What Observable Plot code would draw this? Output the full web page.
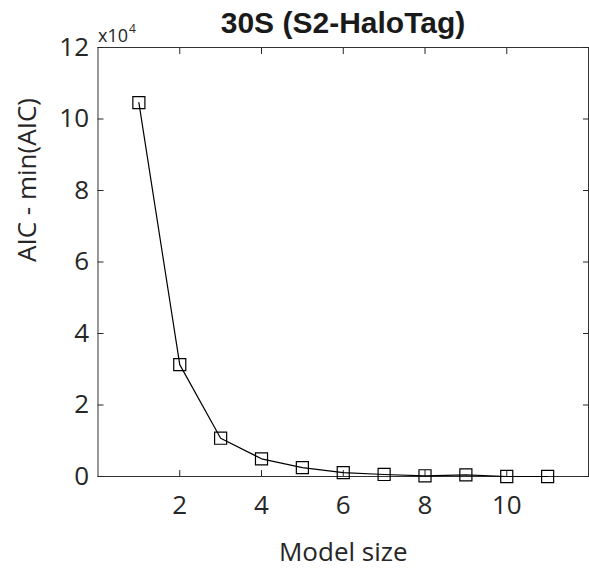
<!DOCTYPE html>
<html>
<head>
<meta charset="utf-8">
<script src="https://cdn.jsdelivr.net/npm/d3@7"></script>
<script src="https://cdn.jsdelivr.net/npm/@observablehq/plot@0.6"></script>
<style>
  body { margin: 0; background: #fff; }
  #wrap { position: relative; width: 589px; height: 568px; }
  #title { position: absolute; left: 97px; width: 492px; top: 6px; text-align: center;
    font: bold 30px "Liberation Sans", Arial, sans-serif; color: #1a1a1a; }
</style>
</head>
<body>
<div id="wrap"><div id="title">30S (S2-HaloTag)</div></div>
<script>
const modelSize = [1, 2, 3, 4, 5, 6, 7, 8, 9, 10, 11];
const aicDiff = [104600, 31300, 10700, 4950, 2500, 1100, 560, 200, 450, 0, 0];
const xTicks = [2, 4, 6, 8, 10];
const yTicks = [0, 2, 4, 6, 8, 10, 12].map(d => d * 1e4);
const xLabel = "Model size";
const yLabel = "AIC - min(AIC)";
const exponentBase = "x10";
const exponent = "4";

const data = modelSize.map((m, i) => ({m, v: aicDiff[i]}));
const ink = "#262626";

const chart = Plot.plot({
  width: 589,
  height: 568,
  marginLeft: 97.5,
  marginRight: 1,
  marginTop: 47,
  marginBottom: 92,
  style: {fontFamily: "'Open Sans', sans-serif", fontSize: "26px", color: ink, background: "white"},
  x: {domain: [0, 12]},
  y: {domain: [0, 120000]},
  marks: [
    Plot.frame({stroke: "#333", strokeWidth: 1}),
    Plot.axisX({ticks: xTicks, anchor: "bottom", tickSize: -6, tickPadding: 25, label: null, fontSize: 26}),
    Plot.axisX({ticks: xTicks, anchor: "top", tickSize: -6, text: null, label: null}),
    Plot.axisY({ticks: yTicks, anchor: "left", tickSize: -6, tickPadding: 15, tickFormat: d => d / 1e4, label: null, fontSize: 26}),
    Plot.axisY({ticks: yTicks, anchor: "right", tickSize: -6, text: null, label: null}),
    Plot.text([xLabel], {frameAnchor: "bottom", dy: 66, lineAnchor: "top", fontSize: 26, fill: ink}),
    Plot.text([yLabel], {frameAnchor: "left", dx: -70, rotate: -90, fontSize: 26, fill: ink}),
    Plot.text([exponentBase], {frameAnchor: "top-left", textAnchor: "start", lineAnchor: "bottom", dx: 0, dy: -6, fontSize: 18, fill: ink}),
    Plot.text([exponent], {frameAnchor: "top-left", textAnchor: "start", lineAnchor: "bottom", dx: 31, dy: -15, fontSize: 12, fill: ink}),
    Plot.line(data, {x: "m", y: "v", stroke: "black", strokeWidth: 1.2}),
    Plot.dot(data, {x: "m", y: "v", symbol: "square", r: 6.8, stroke: "black", strokeWidth: 1.2, fill: "none"})
  ]
});
document.getElementById("wrap").prepend(chart);
chart.style.position = "absolute";
chart.style.left = "0";
chart.style.top = "0";
</script>
</body>
</html>
